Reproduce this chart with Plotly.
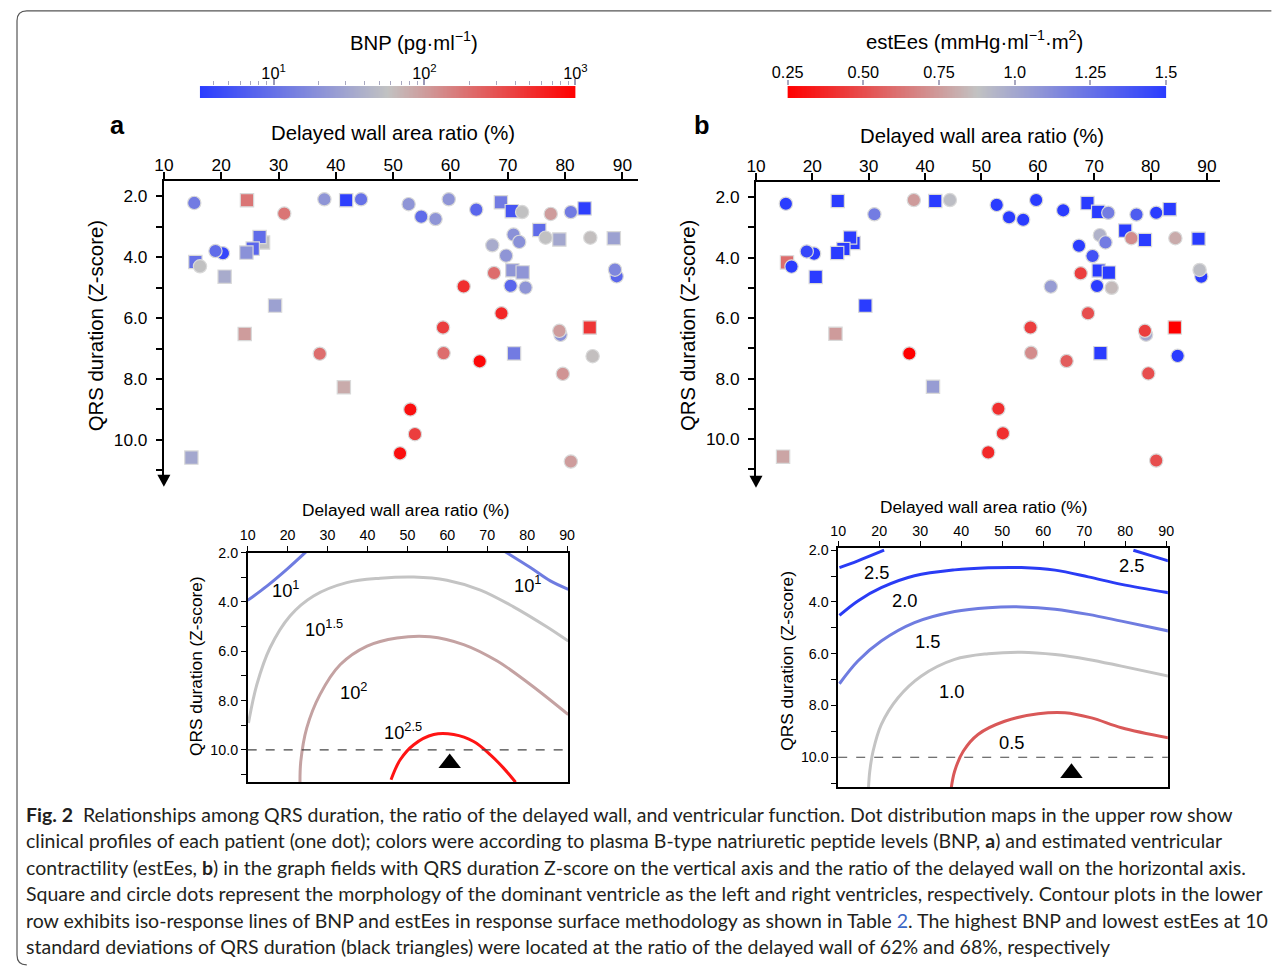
import numpy as np
import plotly.graph_objects as go

W, H = 1284, 966
FONT = "Liberation Sans, Arial, sans-serif"
CAPFONT = "Lato, Open Sans, sans-serif"

# ---------------- data ----------------
ratio = [15.3, 24.5, 38.0, 41.8, 44.4, 31.0, 27.3, 26.7, 25.5, 24.4, 20.3, 19.0, 15.5, 16.3,
         20.6, 29.4, 24.1, 37.2, 41.4, 14.8, 52.7, 59.7, 54.9, 57.4, 64.5, 68.8, 70.7, 72.5,
         77.5, 81.0, 83.4, 75.5, 71.0, 72.0, 76.6, 79.0, 84.4, 88.5, 67.3, 69.7, 67.6, 70.8,
         72.6, 89.0, 88.7, 62.3, 70.5, 73.1, 68.9, 58.7, 79.2, 79.0, 84.3, 58.8, 65.1, 71.1,
         84.8, 79.6, 53.0, 53.8, 51.2, 81.0]
qrs = [2.22, 2.13, 2.10, 2.13, 2.10, 2.57, 3.52, 3.34, 3.72, 3.85, 3.87, 3.80, 4.16, 4.30,
       4.64, 5.59, 6.52, 7.17, 8.27, 10.58, 2.26, 2.10, 2.67, 2.75, 2.44, 2.20, 2.49, 2.52,
       2.58, 2.52, 2.40, 3.11, 3.26, 3.50, 3.36, 3.42, 3.36, 3.38, 3.61, 3.95, 4.52, 4.43,
       4.50, 4.63, 4.41, 4.96, 4.94, 5.00, 5.84, 6.31, 6.55, 6.42, 6.31, 7.15, 7.42, 7.16,
       7.25, 7.83, 9.00, 9.81, 10.44, 10.71]
ventricle = ["R", "L", "R", "L", "R", "R", "L", "L", "L", "L", "R", "R", "L", "R",
             "L", "L", "L", "R", "L", "L", "R", "R", "R", "R", "R", "L", "L", "R",
             "R", "R", "L", "L", "R", "R", "R", "L", "R", "L", "R", "R", "R", "L",
             "L", "R", "R", "R", "R", "R", "R", "R", "R", "R", "L", "R", "R", "L",
             "R", "R", "R", "R", "R", "R"]
bnp = [12.6, 178, 22, 3.5, 10, 178, 56, 9, 8, 20, 4, 9, 10, 56,
       35, 28, 100, 200, 80, 32, 22, 22, 9, 22, 8, 12.6, 5.6, 56,
       100, 12.6, 3.5, 9, 20, 20, 56, 32, 60, 28, 35, 22, 200, 22,
       22, 8, 16, 500, 8, 22, 560, 400, 20, 100, 450, 200, 890, 12.6,
       60, 112, 800, 400, 800, 100]
estees = [1.50, 1.50, 0.75, 1.50, 0.90, 1.20, 1.50, 1.50, 1.50, 1.50, 1.50, 1.45, 0.60, 1.50,
          1.50, 1.50, 0.75, 0.25, 1.05, 0.78, 1.50, 1.50, 1.50, 1.50, 1.50, 1.50, 1.50, 1.20,
          1.35, 1.50, 1.50, 1.50, 0.95, 1.20, 0.70, 1.50, 0.80, 1.50, 1.50, 1.40, 0.45, 1.50,
          1.50, 1.50, 0.90, 1.05, 1.50, 0.85, 0.50, 0.45, 1.00, 0.45, 0.25, 0.70, 0.55, 1.50,
          1.50, 0.50, 0.40, 0.40, 0.38, 0.50]

x_ticks = [10, 20, 30, 40, 50, 60, 70, 80, 90]
y_ticks = [2, 3, 4, 5, 6, 7, 8, 9, 10, 11]
y_ticktext = ["2.0", "", "4.0", "", "6.0", "", "8.0", "", "10.0", ""]

bnp_cb_range = [0.512, 3.0]          # log10(pg/ml)
bnp_cb_major = [1, 2, 3]
bnp_cb_labels = ["10<sup>1</sup>", "10<sup>2</sup>", "10<sup>3</sup>"]
bnp_cb_minor = [4, 5, 6, 7, 8, 9, 20, 30, 40, 50, 60, 70, 80, 90,
                200, 300, 400, 500, 600, 700, 800, 900]
ees_cb_range = [0.25, 1.5]
ees_cb_ticks = [0.25, 0.5, 0.75, 1.0, 1.25, 1.5]
ees_cb_labels = ["0.25", "0.50", "0.75", "1.0", "1.25", "1.5"]

# BNP iso-response lines (lower left)
bnp_c10a_x = [10, 14.8, 19.8, 24.6]
bnp_c10a_y = [3.94, 3.36, 2.68, 1.97]
bnp_c10b_x = [74.5, 80.8, 85.8, 90.3]
bnp_c10b_y = [1.97, 2.61, 3.15, 3.49]
bnp_c15_x = [10.2, 12.3, 15.6, 20.6, 26.5, 34.8, 43.2, 51.6, 59.9, 68.3, 76.6, 85.0, 90.3]
bnp_c15_y = [8.91, 7.35, 5.86, 4.57, 3.76, 3.22, 3.04, 2.99, 3.12, 3.52, 4.20, 5.02, 5.59]
bnp_c20_x = [23.1, 23.3, 24.8, 28.1, 33.2, 39.9, 47.4, 55.7, 64.1, 72.5, 80.8, 90.3]
bnp_c20_y = [11.31, 10.47, 9.11, 7.76, 6.54, 5.79, 5.46, 5.41, 5.73, 6.40, 7.35, 8.57]
bnp_c25_x = [45.9, 48.2, 51.6, 56.6, 61.6, 66.6, 70.8, 74.1, 77.1]
bnp_c25_y = [11.21, 10.40, 9.79, 9.38, 9.38, 9.66, 10.20, 10.74, 11.31]
bnp_peak = [60.6, 10.54]

# estEes iso-response lines (lower right)
ees_c25a_x = [10.3, 14.8, 21.2]
ees_c25a_y = [2.67, 2.41, 2.0]
ees_c25b_x = [82.0, 86.5, 90.5]
ees_c25b_y = [2.0, 2.22, 2.41]
ees_c20_x = [10.3, 14.8, 20.5, 28.6, 38.4, 46.6, 54.7, 62.9, 71.0, 79.1, 90.5]
ees_c20_y = [4.52, 3.96, 3.45, 2.99, 2.76, 2.68, 2.67, 2.77, 3.03, 3.32, 3.64]
ees_c15_x = [10.3, 14.8, 20.5, 28.6, 38.4, 46.6, 54.7, 62.9, 71.0, 79.1, 90.5]
ees_c15_y = [7.16, 6.28, 5.51, 4.80, 4.37, 4.22, 4.19, 4.28, 4.48, 4.74, 5.12]
ees_c10_x = [17.4, 17.7, 18.5, 20.5, 24.6, 30.3, 38.4, 46.6, 54.7, 62.9, 71.0, 79.1, 90.5]
ees_c10_y = [11.16, 10.54, 9.77, 8.74, 7.70, 6.86, 6.22, 6.0, 5.94, 6.03, 6.22, 6.48, 6.86]
ees_c05_x = [37.6, 38.4, 40.5, 44.1, 50.6, 58.8, 65.3, 71.8, 79.1, 90.5]
ees_c05_y = [11.16, 10.54, 9.77, 9.12, 8.61, 8.32, 8.28, 8.48, 8.86, 9.25]
ees_peak = [66.9, 10.61]

caption_lines = [
    "<b>Fig. 2</b>  Relationships among QRS duration, the ratio of the delayed wall, and ventricular function. Dot distribution maps in the upper row show",
    "clinical profiles of each patient (one dot); colors were according to plasma B-type natriuretic peptide levels (BNP, <b>a</b>) and estimated ventricular",
    "contractility (estEes, <b>b</b>) in the graph fields with QRS duration Z-score on the vertical axis and the ratio of the delayed wall on the horizontal axis.",
    "Square and circle dots represent the morphology of the dominant ventricle as the left and right ventricles, respectively. Contour plots in the lower",
    "row exhibits iso-response lines of BNP and estEes in response surface methodology as shown in Table <span style='color:#3a66c4'>2</span>. The highest BNP and lowest estEes at 10",
    "standard deviations of QRS duration (black triangles) were located at the ratio of the delayed wall of 62% and 68%, respectively",
]

# ---------------- styling helpers ----------------
BNP_SCALE = [[0, "#2a3cff"], [0.5, "#c2c2c2"], [1, "#ff0000"]]
EES_SCALE = [[0, "#ff0000"], [0.5, "#c2c2c2"], [1, "#2a3cff"]]

# the photographed page is mapped as  shown = S * page + O ; positions below are
# given in shown-picture pixels and converted back to page pixels
SX, OX = 0.977, 16.3
SY, OY = 0.99, 8.1
FS = 1.0 / 0.983


def tx(t):
    return (t - OX) / SX


def ty(t):
    return (t - OY) / SY


def dx(p0, p1):
    return [tx(p0) / W, tx(p1) / W]


def dy(top, bottom):
    return [1 - ty(bottom) / H, 1 - ty(top) / H]


def px(p):
    return tx(p) / W


def py(p):
    return 1 - ty(p) / H


def fs(s):
    return s * FS


symbols = ["square" if v == "L" else "circle" for v in ventricle]
log_bnp = list(np.log10(bnp))

fig = go.Figure()

# ---- upper scatter panels ----
fig.add_trace(go.Scatter(
    x=ratio, y=qrs, mode="markers", xaxis="x", yaxis="y", hoverinfo="skip",
    marker=dict(symbol=symbols, size=13.3, color=log_bnp, colorscale=BNP_SCALE,
                cmin=bnp_cb_range[0], cmax=bnp_cb_range[1], showscale=False,
                line=dict(color="#d9d9d9", width=1.2))))
fig.add_trace(go.Scatter(
    x=ratio, y=qrs, mode="markers", xaxis="x2", yaxis="y2", hoverinfo="skip",
    marker=dict(symbol=symbols, size=13.3, color=estees, colorscale=EES_SCALE,
                cmin=ees_cb_range[0], cmax=ees_cb_range[1], showscale=False,
                line=dict(color="#d9d9d9", width=1.2))))

# ---- lower contour panels ----
def line(x, y, color, ax, ay):
    fig.add_trace(go.Scatter(x=x, y=y, mode="lines", xaxis=ax, yaxis=ay, hoverinfo="skip",
                             line=dict(color=color, width=3, shape="spline", smoothing=1.0)))


line(bnp_c10a_x, bnp_c10a_y, "#6f7ce0", "x3", "y3")
line(bnp_c10b_x, bnp_c10b_y, "#6f7ce0", "x3", "y3")
line(bnp_c15_x, bnp_c15_y, "#c4c4c4", "x3", "y3")
line(bnp_c20_x, bnp_c20_y, "#c4a2a2", "x3", "y3")
line(bnp_c25_x, bnp_c25_y, "#ff1414", "x3", "y3")

line(ees_c25a_x, ees_c25a_y, "#2a3cf5", "x4", "y4")
line(ees_c25b_x, ees_c25b_y, "#2a3cf5", "x4", "y4")
line(ees_c20_x, ees_c20_y, "#2a3cf5", "x4", "y4")
line(ees_c15_x, ees_c15_y, "#6f7ce0", "x4", "y4")
line(ees_c10_x, ees_c10_y, "#c4c4c4", "x4", "y4")
line(ees_c05_x, ees_c05_y, "#d95858", "x4", "y4")

fig.add_trace(go.Scatter(x=[bnp_peak[0]], y=[bnp_peak[1]], mode="markers", xaxis="x3", yaxis="y3",
                         hoverinfo="skip", marker=dict(symbol="triangle-up", size=19.5, color="black")))
fig.add_trace(go.Scatter(x=[ees_peak[0]], y=[ees_peak[1]], mode="markers", xaxis="x4", yaxis="y4",
                         hoverinfo="skip", marker=dict(symbol="triangle-up", size=19.5, color="black")))

# ---- colour bars (gradient strips) ----
g_bnp = np.linspace(bnp_cb_range[0], bnp_cb_range[1], 300)
fig.add_trace(go.Heatmap(x=g_bnp, y=[0], z=[g_bnp], xaxis="x5", yaxis="y5", colorscale=BNP_SCALE,
                         zmin=bnp_cb_range[0], zmax=bnp_cb_range[1], showscale=False, hoverinfo="skip"))
g_ees = np.linspace(ees_cb_range[0], ees_cb_range[1], 300)
fig.add_trace(go.Heatmap(x=g_ees, y=[0], z=[g_ees], xaxis="x6", yaxis="y6", colorscale=EES_SCALE,
                         zmin=ees_cb_range[0], zmax=ees_cb_range[1], showscale=False, hoverinfo="skip"))

# ---------------- axes ----------------
def upper_x(domain, rng, anchor):
    return dict(domain=domain, range=rng, anchor=anchor, side="top", showgrid=False, zeroline=False,
                showline=True, linecolor="black", linewidth=2, ticks="outside", ticklen=7,
                tickwidth=1.5, tickcolor="black", tickmode="array", tickvals=x_ticks,
                ticklabelstandoff=-6,
                tickfont=dict(family=FONT, size=fs(17), color="black"))


def upper_y(domain, rng, anchor):
    return dict(domain=domain, range=rng, anchor=anchor, showgrid=False, zeroline=False,
                showline=True, linecolor="black", linewidth=2, ticks="outside", ticklen=6,
                tickwidth=1.5, tickcolor="black", tickmode="array", tickvals=y_ticks,
                ticktext=y_ticktext, ticklabelstandoff=5,
                tickfont=dict(family=FONT, size=fs(17), color="black"))


def lower_x(domain, rng, anchor):
    return dict(domain=domain, range=rng, anchor=anchor, side="top", showgrid=False, zeroline=False,
                showline=True, mirror=True, linecolor="black", linewidth=1.5, ticks="outside",
                ticklen=5, tickwidth=1.2, tickcolor="black", tickmode="array", tickvals=x_ticks,
                tickfont=dict(family=FONT, size=fs(14), color="black"))


def lower_y(domain, rng, anchor):
    return dict(domain=domain, range=rng, anchor=anchor, showgrid=False, zeroline=False,
                showline=True, mirror=True, linecolor="black", linewidth=1.5, ticks="outside",
                ticklen=5, tickwidth=1.2, tickcolor="black", tickmode="array", tickvals=y_ticks,
                ticktext=y_ticktext, tickfont=dict(family=FONT, size=fs(14), color="black"))


layout = dict(
    width=W, height=H, margin=dict(l=0, r=0, t=0, b=0), showlegend=False, autosize=False,
    paper_bgcolor="white", plot_bgcolor="rgba(0,0,0,0)",
    xaxis=upper_x(dx(164, 638), [10, 92.8], "y"),
    yaxis=upper_y(dy(181, 477), [11.24, 1.507], "x"),
    xaxis2=upper_x(dx(755.4, 1219.3), [10, 92.4], "y2"),
    yaxis2=upper_y(dy(182, 478), [11.31, 1.51], "x2"),
    xaxis3=lower_x(dx(247.7, 567.7), [10, 90.25], "y3"),
    yaxis3=lower_y(dy(551.7, 780.7), [11.3, 2.0], "x3"),
    xaxis4=lower_x(dx(837.5, 1166.7), [10, 90.4], "y4"),
    yaxis4=lower_y(dy(547.3, 786), [11.16, 1.92], "x4"),
    xaxis5=dict(domain=dx(200, 575), range=bnp_cb_range, anchor="y5", side="top", showgrid=False,
                zeroline=False, showline=False, ticks="outside", ticklen=6, tickwidth=1.5,
                tickcolor="#9a9ab8", tickmode="array", tickvals=bnp_cb_major, ticktext=bnp_cb_labels,
                ticklabelstandoff=-6,
                tickfont=dict(family=FONT, size=fs(16), color="black"),
                minor=dict(tickmode="array", tickvals=list(np.log10(bnp_cb_minor)), ticks="outside",
                           ticklen=4, tickwidth=1, tickcolor="#a8a8c0")),
    yaxis5=dict(domain=dy(86, 98), anchor="x5", visible=False, fixedrange=True),
    xaxis6=dict(domain=dx(787, 1165), range=ees_cb_range, anchor="y6", side="top", showgrid=False,
                zeroline=False, showline=False, ticks="outside", ticklen=5, tickwidth=1.5,
                tickcolor="#a8a8c0", tickmode="array", tickvals=ees_cb_ticks, ticktext=ees_cb_labels,
                ticklabelstandoff=-4,
                tickfont=dict(family=FONT, size=fs(16), color="black")),
    yaxis6=dict(domain=dy(86, 98), anchor="x6", visible=False, fixedrange=True),
)
fig.update_layout(**layout)

# ---------------- annotations ----------------
ann = []


def text(x, y, s, size, xref="paper", yref="paper", angle=0, xanchor="center", bold=False,
         family=FONT, color="black"):
    ann.append(dict(x=x, y=y, xref=xref, yref=yref, text=("<b>%s</b>" % s) if bold else s,
                    showarrow=False, textangle=angle, xanchor=xanchor, yanchor="middle",
                    font=dict(family=family, size=fs(size), color=color)))


text(px(414), py(41), "BNP (pg·ml<sup>−1</sup>)", 20)
text(px(974), py(40), "estEes (mmHg·ml<sup>−1</sup>·m<sup>2</sup>)", 20)
text(px(118), py(125), "a", 25, bold=True)
text(px(701), py(125), "b", 25, bold=True)
text(px(393), py(133), "Delayed wall area ratio (%)", 20)
text(px(981), py(136), "Delayed wall area ratio (%)", 20)
text(px(97), py(325), "QRS duration (Z-score)", 20, angle=-90)
text(px(688), py(325), "QRS duration (Z-score)", 20, angle=-90)
text(px(405), py(509), "Delayed wall area ratio (%)", 17)
text(px(983), py(506), "Delayed wall area ratio (%)", 17)
text(px(196), py(665), "QRS duration (Z-score)", 17, angle=-90)
text(px(786), py(660), "QRS duration (Z-score)", 17, angle=-90)

# contour labels
for xx, yy, s in [(19.4, 3.49, "10<sup>1</sup>"), (80.0, 3.29, "10<sup>1</sup>"),
                  (29.0, 5.05, "10<sup>1.5</sup>"), (36.5, 7.62, "10<sup>2</sup>"),
                  (49.0, 9.25, "10<sup>2.5</sup>")]:
    text(xx, yy, s, 18, xref="x3", yref="y3")
for xx, yy, s in [(19.3, 2.86, "2.5"), (81.6, 2.60, "2.5"), (26.2, 3.96, "2.0"),
                  (31.9, 5.51, "1.5"), (37.6, 7.45, "1.0"), (52.3, 9.45, "0.5")]:
    text(xx, yy, s, 18, xref="x4", yref="y4")

# caption
for i, s in enumerate(caption_lines):
    text(px(24), py(813 + i * 26.4), s, 19.18, xanchor="left", family=CAPFONT, color="#231f20")

fig.update_layout(annotations=ann)

# ---------------- shapes ----------------
shapes = [
    dict(type="line", xref="x3 domain", yref="y3", x0=0, x1=1, y0=10, y1=10,
         line=dict(color="#444444", width=1.2, dash="dash")),
    dict(type="line", xref="x4 domain", yref="y4", x0=0, x1=1, y0=10, y1=10,
         line=dict(color="#444444", width=1.2, dash="dash")),
]


def arrow_down(cx, top, tip, half):
    return dict(type="path", xref="paper", yref="paper", fillcolor="black", line=dict(width=0),
                path="M %f,%f L %f,%f L %f,%f Z" % (px(cx - half), py(top), px(cx + half), py(top),
                                                    px(cx), py(tip)))


shapes.append(arrow_down(164, 474, 486, 6.5))
shapes.append(arrow_down(755.4, 475, 487, 6.5))

# rounded frame around the figure (kept inside the page)
r = 10
fx0, fy0 = max(px(11), 0.0008), min(py(11), 0.9985)
fx1, fy1 = 0.9995, max(py(966), 0.0012)
rx, ry = r / W, r / H
path = "M %f,%f L %f,%f Q %f,%f %f,%f L %f,%f Q %f,%f %f,%f" % (
    fx1, fy0, fx0 + rx, fy0, fx0, fy0, fx0, fy0 - ry,
    fx0, fy1 + ry, fx0, fy1, fx0 + rx, fy1)
shapes.append(dict(type="path", xref="paper", yref="paper", path=path,
                   line=dict(color="#555555", width=1.2), layer="below"))
fig.update_layout(shapes=shapes)

fig.write_html("out.html", config={"displayModeBar": False},
               post_script="document.body.style.margin='0';document.body.style.overflow='hidden';"
                           "document.documentElement.style.overflow='hidden';")
